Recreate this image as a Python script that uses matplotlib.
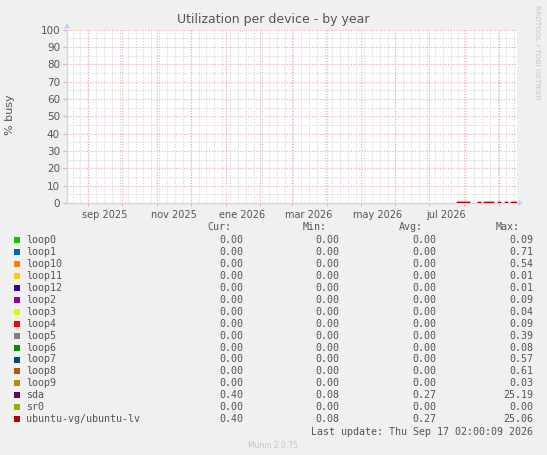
import matplotlib
matplotlib.use("Agg")
import matplotlib.pyplot as plt
import matplotlib.dates as mdates
from matplotlib.patches import Rectangle
import numpy as np
import datetime as dt

# ---- data ----
devices = ["loop0", "loop1", "loop10", "loop11", "loop12", "loop2", "loop3", "loop4",
           "loop5", "loop6", "loop7", "loop8", "loop9", "sda", "sr0", "ubuntu-vg/ubuntu-lv"]
colors = ["#00CC00", "#0066B3", "#FF8000", "#FFCC00", "#330099", "#990099", "#CCFF00", "#FF0000",
          "#808080", "#008F00", "#00487D", "#B35A00", "#B38F00", "#6B006B", "#8FB300", "#B30000"]
cur = [0.00, 0.00, 0.00, 0.00, 0.00, 0.00, 0.00, 0.00, 0.00, 0.00, 0.00, 0.00, 0.00, 0.40, 0.00, 0.40]
mins = [0.00, 0.00, 0.00, 0.00, 0.00, 0.00, 0.00, 0.00, 0.00, 0.00, 0.00, 0.00, 0.00, 0.08, 0.00, 0.08]
avgs = [0.00, 0.00, 0.00, 0.00, 0.00, 0.00, 0.00, 0.00, 0.00, 0.00, 0.00, 0.00, 0.00, 0.27, 0.00, 0.27]
maxs = [0.09, 0.71, 0.54, 0.01, 0.01, 0.09, 0.04, 0.09, 0.39, 0.08, 0.57, 0.61, 0.03, 25.19, 0.00, 25.06]

# series samples (every 2 days, from 2026-07-26) for the devices with activity
sample_start = "2026-07-26"
sda_vals = [0.5, 0.5, 0.5, 0.5, 0.5, 0.5, 0.0, 0.5, 0.0, 0.5, 0.5, 0.0, 0.5, 0.5,
            0.5, 0.5, 0.5, 0.0, 0.5, 0.5, 0.0, 0.5, 0.5, 0.0, 0.5, 0.5, 0.5]
lv_vals = [0.5, 0.5, 0.5, 0.5, 0.5, 0.5, 0.0, 0.5, 0.0, 0.5, 0.5, 0.0, 0.5, 0.5,
           0.5, 0.5, 0.5, 0.0, 0.5, 0.5, 0.0, 0.5, 0.5, 0.0, 0.5, 0.5, 0.5]

month_labels = ["sep 2025", "nov 2025", "ene 2026", "mar 2026", "may 2026", "jul 2026"]
yticks = [0, 10, 20, 30, 40, 50, 60, 70, 80, 90, 100]

title = "Utilization per device - by year"
ylabel = "% busy"
last_update = "Last update: Thu Sep 17 02:00:09 2026"

# ---- figure ----
W, H = 547, 455
fig = plt.figure(figsize=(W / 100, H / 100), dpi=100, facecolor="#F0F0F0")

L, R, T, B = 67, 517, 29.5, 203
ax = fig.add_axes([L / W, 1 - B / H, (R - L) / W, (B - T) / H])
ax.set_facecolor("white")

end = dt.datetime(2026, 9, 17, 2, 0, 9)
start = end - dt.timedelta(days=400)
ax.set_xlim(mdates.date2num(start), mdates.date2num(end))
ax.set_ylim(0, 100)

# grid
minor_c = "#d4d4d4"
major_c = "#e8a8a8"
for y in range(5, 100, 10):
    ax.axhline(y, color=minor_c, lw=0.8, ls=(0, (1, 1.5)), zorder=1)
for y in range(10, 101, 10):
    ax.axhline(y, color=major_c, lw=0.8, ls=(0, (1, 1.5)), zorder=1.2)

d = start.date()
while d <= end.date():
    if d.weekday() == 0:
        ax.axvline(mdates.date2num(dt.datetime(d.year, d.month, d.day)), color=minor_c, lw=0.8,
                   ls=(0, (1, 1.5)), zorder=1)
    d += dt.timedelta(days=1)

month_starts = []
y_, m_ = start.year, start.month + 1
while True:
    if m_ > 12:
        m_ -= 12
        y_ += 1
    ds = dt.datetime(y_, m_, 1)
    if ds > end:
        break
    month_starts.append(ds)
    m_ += 1
for ms in month_starts:
    ax.axvline(mdates.date2num(ms), color=major_c, lw=0.8, ls=(0, (1, 1.5)), zorder=1.2)

# data
sdates = [dt.datetime.fromisoformat(sample_start) + dt.timedelta(days=2 * i) for i in range(len(lv_vals))]
for name, col in zip(devices, colors):
    if name == "sda":
        vals = sda_vals
    elif name == "ubuntu-vg/ubuntu-lv":
        vals = lv_vals
    else:
        continue
    v = np.array(vals, dtype=float)
    v[v == 0] = np.nan
    ax.plot(mdates.date2num(sdates), v, color=col, lw=1.0, zorder=3)

# ticks
label_pos = [mdates.date2num(dt.datetime(2025, 9, 16)), mdates.date2num(dt.datetime(2025, 11, 16)),
             mdates.date2num(dt.datetime(2026, 1, 16)), mdates.date2num(dt.datetime(2026, 3, 16)),
             mdates.date2num(dt.datetime(2026, 5, 16)), mdates.date2num(dt.datetime(2026, 7, 16))]
ax.set_xticks(label_pos)
ax.set_xticklabels(month_labels)
ax.set_xticks([mdates.date2num(m) for m in month_starts], minor=True)
ax.tick_params(axis="x", which="major", length=0, pad=5, labelsize=7, labelcolor="#555555")
ax.tick_params(axis="x", which="minor", length=2, color="#e8a8a8")
ax.set_yticks(yticks)
ax.set_yticklabels([str(t) for t in yticks])
ax.tick_params(axis="y", length=3, width=0.8, color="#c0c0c0", pad=2, labelsize=7.5, labelcolor="#555555")

for s in ["top", "right"]:
    ax.spines[s].set_visible(False)
for s in ["left", "bottom"]:
    ax.spines[s].set_color("#d0d4f4")
    ax.spines[s].set_linewidth(1.0)
    ax.spines[s].set_zorder(2)

# axis arrows
fig.add_artist(plt.Polygon([[(R + 1) / W, 1 - (B - 3) / H], [(R + 1) / W, 1 - (B + 3) / H], [(R + 6) / W, 1 - B / H]],
                           closed=True, transform=fig.transFigure, color="#c8cdf4", lw=0))
fig.add_artist(plt.Polygon([[(L - 3) / W, 1 - (T - 1) / H], [(L + 3) / W, 1 - (T - 1) / H], [L / W, 1 - (T - 7) / H]],
                           closed=True, transform=fig.transFigure, color="#c8cdf4", lw=0))

def ft(x, y, s, **kw):
    fig.text(x / W, 1 - y / H, s, **kw)

ft(273, 19, title, ha="center", va="center", fontsize=9, color="#555555")
ft(10, 115, ylabel, ha="center", va="center", rotation=90, fontsize=8, color="#555555")
ft(537, 5, "RRDTOOL / TOBI OETIKER", ha="center", va="top", rotation=270, fontsize=5.3, color="#c4c4c4")

# legend
mono = dict(family="DejaVu Sans Mono", fontsize=7.2, color="#555555", va="center")
ft(231, 227, "Cur:", ha="right", **mono)
ft(327, 227, "Min:", ha="right", **mono)
ft(423, 227, "Avg:", ha="right", **mono)
ft(520, 227, "Max:", ha="right", **mono)
for i, (name, col) in enumerate(zip(devices, colors)):
    y = 240 + 11.95 * i
    fig.add_artist(Rectangle((14 / W, 1 - (y + 3) / H), 6 / W, 6 / H, transform=fig.transFigure,
                             facecolor=col, edgecolor="none"))
    ft(26, y, name, ha="left", **mono)
    ft(243, y, f"{cur[i]:.2f}", ha="right", **mono)
    ft(339, y, f"{mins[i]:.2f}", ha="right", **mono)
    ft(436, y, f"{avgs[i]:.2f}", ha="right", **mono)
    ft(533, y, f"{maxs[i]:.2f}", ha="right", **mono)
ft(533, 432, last_update, ha="right", **mono)
ft(273, 445, "Munin 2.0.75", ha="center", va="center", fontsize=5.5, color="#c4c4c4")

fig.savefig("out.png", dpi=100, facecolor=fig.get_facecolor())
